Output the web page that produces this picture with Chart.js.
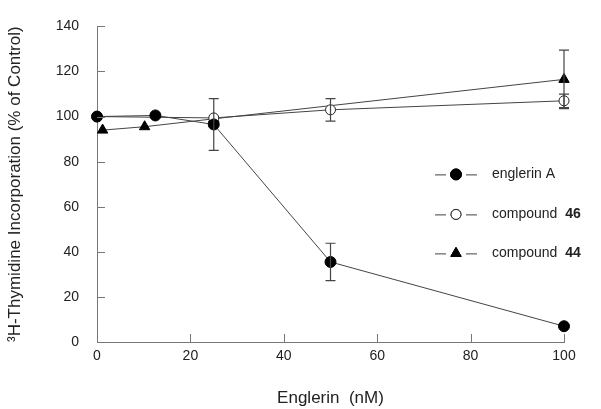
<!DOCTYPE html>
<html>
<head>
<meta charset="utf-8">
<script src="https://cdn.jsdelivr.net/npm/chart.js@4.4.0/dist/chart.umd.min.js"></script>
<style>
  html, body { margin: 0; padding: 0; background: #fff; }
  #wrap { width: 601px; height: 409px; }
</style>
</head>
<body>
<div id="wrap"><canvas id="chart" width="601" height="409"></canvas></div>
<script>
// Data
const englerinX = [0, 12.5, 25, 50, 100];
const englerinY = [100, 100.5, 96.5, 35.5, 7];
const englerinErr = [0, 0, 11.5, 8.3, 0];

const cmp46X = [0, 25, 50, 100];
const cmp46Y = [100, 99.4, 103, 107];
const cmp46Err = [0, 0, 5, 3];

const cmp44X = [1.2, 10.2, 25, 100];
const cmp44Y = [94, 95.5, 99, 116.5];
const cmp44Err = [0, 0, 0, 13];

const xTicks = [0, 20, 40, 60, 80, 100];
const yTicks = [0, 20, 40, 60, 80, 100, 120, 140];

const FONT = 'Arial, "Liberation Sans", sans-serif';
const LINE_COLOR = '#444';
const AXIS_COLOR = '#777';

function toPoints(xs, ys) {
    return xs.map((x, i) => ({ x: x, y: ys[i] }));
}

// Error bars
const errorBarPlugin = {
    id: 'errorBars',
    afterDatasetsDraw(chart) {
        const ctx = chart.ctx;
        const xs = chart.scales.x, ys = chart.scales.y;
        ctx.save();
        ctx.strokeStyle = LINE_COLOR;
        ctx.lineWidth = 1.2;
        chart.data.datasets.forEach(ds => {
            if (!ds.errors) return;
            ds.data.forEach((p, i) => {
                const e = ds.errors[i];
                if (!e) return;
                const px = xs.getPixelForValue(p.x);
                const top = ys.getPixelForValue(p.y + e);
                const bot = ys.getPixelForValue(p.y - e);
                ctx.beginPath();
                ctx.moveTo(px, top); ctx.lineTo(px, bot);
                ctx.moveTo(px - 5, top); ctx.lineTo(px + 5, top);
                ctx.moveTo(px - 5, bot); ctx.lineTo(px + 5, bot);
                ctx.stroke();
            });
        });
        ctx.restore();
    }
};

// Inward tick marks
const innerTicksPlugin = {
    id: 'innerTicks',
    afterDraw(chart) {
        const ctx = chart.ctx;
        const xs = chart.scales.x, ys = chart.scales.y;
        const a = chart.chartArea;
        ctx.save();
        ctx.strokeStyle = AXIS_COLOR;
        ctx.lineWidth = 1;
        ctx.beginPath();
        yTicks.forEach(v => {
            const py = Math.round(ys.getPixelForValue(v)) + 0.5;
            ctx.moveTo(a.left, py); ctx.lineTo(a.left + 8, py);
        });
        xTicks.forEach(v => {
            const px = Math.round(xs.getPixelForValue(v)) + 0.5;
            ctx.moveTo(px, a.bottom); ctx.lineTo(px, a.bottom - 8);
        });
        ctx.stroke();
        ctx.restore();
    }
};

// Legend drawn inside the plot
const legendPlugin = {
    id: 'innerLegend',
    afterDraw(chart) {
        const ctx = chart.ctx;
        const a = chart.chartArea;
        const x0 = a.left + 338;
        const rows = [
            { ds: 0, y: a.top + 148, parts: [['englerin A', 'normal']] },
            { ds: 1, y: a.top + 188, parts: [['compound  ', 'normal'], ['46', 'bold']] },
            { ds: 2, y: a.top + 227, parts: [['compound  ', 'normal'], ['44', 'bold']] }
        ];
        ctx.save();
        rows.forEach(r => {
            const ds = chart.data.datasets[r.ds];
            ctx.strokeStyle = LINE_COLOR;
            ctx.lineWidth = 1;
            ctx.beginPath();
            ctx.moveTo(x0, r.y + 0.5); ctx.lineTo(x0 + 11, r.y + 0.5);
            ctx.moveTo(x0 + 31, r.y + 0.5); ctx.lineTo(x0 + 42, r.y + 0.5);
            ctx.stroke();
            Chart.helpers.drawPoint(ctx, {
                pointStyle: ds.pointStyle,
                radius: ds.pointRadius,
                borderWidth: ds.pointBorderWidth
            }, x0 + 21, r.y);
            ctx.fillStyle = ds.pointBackgroundColor;
            ctx.strokeStyle = ds.pointBorderColor;
            ctx.lineWidth = ds.pointBorderWidth;
            ctx.fill();
            ctx.stroke();
            let tx = x0 + 57;
            ctx.fillStyle = '#222';
            ctx.textBaseline = 'middle';
            r.parts.forEach(([t, w]) => {
                ctx.font = w + ' 14px ' + FONT;
                ctx.fillText(t, tx, r.y);
                tx += ctx.measureText(t).width;
            });
        });
        ctx.restore();
    }
};

const datasets = [
    {
        label: 'englerin A',
        data: toPoints(englerinX, englerinY),
        errors: englerinErr,
        borderColor: LINE_COLOR,
        borderWidth: 1,
        clip: false,
        pointStyle: 'circle',
        pointRadius: 5.5,
        pointBackgroundColor: '#000',
        pointBorderColor: '#000',
        pointBorderWidth: 1,
        order: 0
    },
    {
        label: 'compound 46',
        data: toPoints(cmp46X, cmp46Y),
        errors: cmp46Err,
        borderColor: LINE_COLOR,
        borderWidth: 1,
        clip: false,
        pointStyle: 'circle',
        pointRadius: 5,
        pointBackgroundColor: '#fff',
        pointBorderColor: '#222',
        pointBorderWidth: 1,
        order: 1
    },
    {
        label: 'compound 44',
        data: toPoints(cmp44X, cmp44Y),
        errors: cmp44Err,
        borderColor: LINE_COLOR,
        borderWidth: 1,
        clip: false,
        pointStyle: 'triangle',
        pointRadius: 6,
        pointBackgroundColor: '#000',
        pointBorderColor: '#000',
        pointBorderWidth: 1,
        order: 2
    }
];

new Chart(document.getElementById('chart').getContext('2d'), {
    type: 'line',
    data: { datasets: datasets },
    options: {
        responsive: false,
        animation: false,
        layout: { padding: { top: 12, right: 37, left: 0, bottom: 0 } },
        plugins: {
            legend: { display: false },
            tooltip: { enabled: false }
        },
        scales: {
            x: {
                type: 'linear',
                min: 0,
                max: 100,
                afterBuildTicks: s => { s.ticks = xTicks.map(v => ({ value: v })); },
                afterFit: s => { s.height = 67; },
                grid: { display: false, drawTicks: false },
                border: { display: true, color: AXIS_COLOR, width: 1 },
                ticks: {
                    color: '#222',
                    padding: 6,
                    font: { family: FONT, size: 14 }
                },
                title: {
                    display: true,
                    text: 'Englerin  (nM)',
                    color: '#222',
                    font: { family: FONT, size: 17 },
                    padding: { top: 8, bottom: 0 }
                }
            },
            y: {
                min: 0,
                max: 140,
                afterBuildTicks: s => { s.ticks = yTicks.map(v => ({ value: v })); },
                afterFit: s => { s.width = 97; },
                grid: { display: false, drawTicks: false },
                border: { display: true, color: AXIS_COLOR, width: 1 },
                ticks: {
                    color: '#222',
                    padding: 18,
                    font: { family: FONT, size: 14 }
                },
                title: {
                    display: true,
                    text: '³H-Thymidine Incorporation (% of Control)',
                    color: '#222',
                    font: { family: FONT, size: 17 },
                    padding: { top: 5, bottom: 0 }
                }
            }
        }
    },
    plugins: [errorBarPlugin, innerTicksPlugin, legendPlugin]
});
</script>
</body>
</html>
